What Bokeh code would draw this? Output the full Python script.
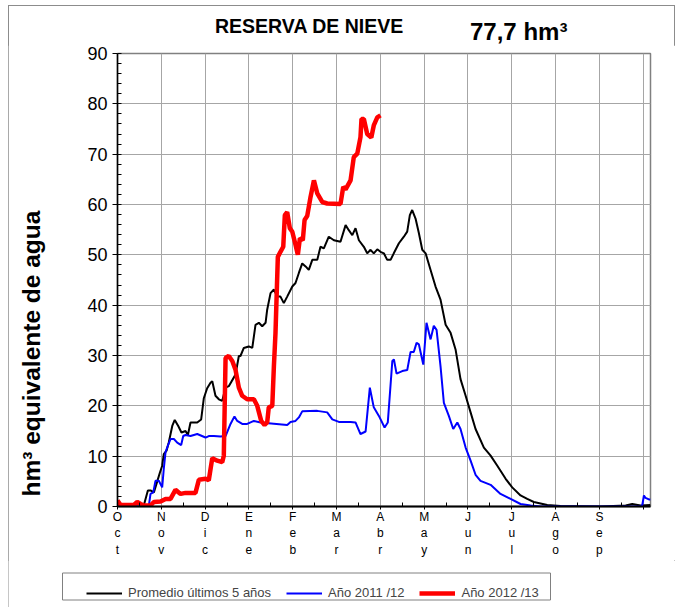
from bokeh.plotting import figure
from bokeh.layouts import column
from bokeh.models import (Range1d, FixedTicker, Legend, LegendItem, Title, Div, BoxAnnotation)
from bokeh.embed import file_html
from bokeh.resources import INLINE

# ---- data (x = days from 1 October, y = hm3) ----
prom_day = [0, 15.8, 18, 20.8, 22.6, 24.9, 26.7, 29, 30.6, 31.7, 33.6, 35.1, 37.5, 39.2, 41.6, 43.8,
            46.6, 48.2, 50, 54.6, 57.3, 59.1, 61.4, 63.7, 64.9, 67.1, 69.4, 71.7, 74, 76.2, 80.8,
            83.1, 84.2, 86.5, 89.9, 92.3, 94.5, 96.8, 99.1, 101.4, 102.5, 104.8, 107.1, 109.4,
            111.6, 113.9, 116.2, 119.7, 121.9, 124.2, 126.5, 128.8, 131, 133.4, 136.8, 139,
            141.3, 144.7, 148.2, 152.7, 156.2, 158.4, 160.8, 163, 165.3, 168.7, 171, 173.3,
            175.5, 177.9, 180.1, 182.4, 184.7, 187, 189.2, 192.7, 196.1, 198.4, 200.2, 201.8,
            204.1, 206.4, 208.7, 211, 214.4, 217.8, 221.2, 224.7, 228.1, 231.5, 234.9, 238.4,
            241.8, 245.2, 250.9, 255.5, 260.1, 265.8, 270.3, 276, 280.6, 285.1, 294.3, 303.4,
            330.8, 348, 352.5, 358.2, 365]
prom_val = [0, 0, 0.2, 3.2, 3.2, 2.8, 4.5, 6.7, 8.1, 10.4, 11.1, 12.7, 16, 17.2, 16, 14.7,
            15, 14.2, 16.7, 16.7, 17.3, 21.5, 23.5, 24.6, 24.9, 22, 21.3, 21, 23.6, 23.9, 26.2,
            29.9, 29.9, 31.5, 31.8, 31.5, 36.1, 36.5, 35.8, 36.5, 39.1, 42.4, 43.1, 41.7,
            41.7, 40.4, 41.7, 43.7, 44.4, 46.4, 48.3, 47.7, 47.0, 49.0, 49.0, 51.6,
            51.3, 53.6, 52.9, 52.6, 55.9, 54.9, 53.9, 55.3, 52.9, 51.6, 50.3, 51,
            50.3, 51.1, 50.6, 50.3, 49.0, 49, 50.3, 52.3, 53.6, 54.6, 57.9, 58.9,
            57.2, 54.3, 51, 50.3, 47, 43.7, 41.1, 36.1, 34.5, 31.2, 25.3, 22,
            18.7, 15.4, 11.7, 10.1, 8.1, 5.5, 3.8, 2.2, 1.5, 0.9, 0.3, 0.1,
            0, 0.2, 0.5, 0.2, 0.3]

a1112_day = [0, 21.4, 22.6, 24.5, 26, 28.3, 30.6, 31.7, 32.9, 34.5, 36.3, 38.6, 40.9, 43.6, 45,
             46.6, 50, 54.6, 60.3, 62.5, 66, 70.5, 74, 77.4, 80.1, 82, 85.4, 88.8, 93.4, 97.9,
             116.2, 118.5, 121.9, 124.2, 126.5, 136.8, 143.6, 147.1, 151.6, 159.6, 163, 166.4,
             169.9, 172.8, 175.5, 179, 182.9, 185.1, 188.2, 189.3, 191.1, 195, 198.4, 200.7,
             202.9, 204.8, 206.4, 209.4, 211.6, 214.4, 216.6, 218.5, 221.2, 223.5, 226.9,
             229.9, 232.7, 234.9, 238.4, 241.8, 245.2, 248.6, 255.5, 262.3, 269.2, 276,
             282.9, 289.7, 358.2, 359.4, 360.5, 361.6, 363.9, 365]
a1112_val = [0, 0, 2.5, 2.8, 5.1, 5.1, 3.8, 7.5, 10.8, 12.1, 13.4, 13.4, 12.7, 12.2, 14,
             14.2, 14, 14.4, 13.7, 14, 14, 13.9, 14, 16.4, 17.9, 17, 16.4, 16.4, 17, 16.7,
             16.2, 16.8, 17, 17.7, 18.9, 19, 18.7, 17.3, 16.8, 16.8, 16.7, 14.4,
             14.9, 23.6, 19.7, 18, 15.7, 16.7, 28.9, 29.2, 26.4, 26.9, 27.1, 30.7,
             30.7, 32.5, 32.2, 28.2, 36.5, 33.2, 35.9, 35.1, 27.9, 20.6, 18,
             15.4, 16.7, 15.4, 11.7, 9.1, 6.3, 5.1, 4.3, 2.5, 1.5, 0.5,
             0.2, 0, 0, 0.3, 2.2, 1.7, 1.4, 1.4]

a1213_day = [0, 2.1, 11.2, 13.5, 15.8, 18, 22.6, 24.9, 29.5, 32.9, 36.3, 39.7, 43.2, 46.6,
             53.4, 55.7, 60.3, 62.5, 64.9, 68.3, 71.7, 72.8, 74, 76.2, 78.6, 80.8, 83.1,
             85.4, 88.8, 93.4, 95.7, 98.4, 100.7, 102.5, 103.6, 106, 107.1, 108.2, 109.8,
             111.6, 113.5, 114.6, 116.2, 118, 119.7, 121.9, 123.5, 124.9, 126.9, 128.1,
             129.9, 132.2, 134.5, 136.8, 140.2, 143.6, 152.7, 154.6, 156.2, 159.6, 161.8,
             164.2, 166.4, 167.1, 168.7, 171, 173.8, 175.5, 177.9, 180.1]
a1213_val = [1.2, 0.3, 0.3, 0.9, 0.5, 0.2, 0.2, 0.9, 1, 1.5, 1.5, 3.3, 2.5, 2.7,
             2.7, 5.3, 5.5, 5.2, 9.6, 9.1, 8.8, 10.1, 29.5, 29.9, 28.9, 27.2, 23.6,
             22, 21.3, 21.3, 20, 17, 16.2, 16.7, 19.7, 20, 27.9, 34.5, 49.6,
             50.6, 51.6, 57.9, 58.5, 55.3, 54.6, 52, 50, 53.3, 52.9, 56.9,
             57.7, 61.5, 64.8, 62.2, 60.5, 60.2, 60.1, 63.5, 63, 64.8, 69.4,
             70.1, 73.4, 77, 77, 74, 73.3, 75.7, 77.3, 77.7]

month_ticks = [0, 30, 60, 90, 120, 150, 180, 210, 240, 270, 300, 330, 360]
month_labels = ["Oct", "Nov", "Dic", "Ene", "Feb", "Mar", "Abr", "May", "Jun", "Jul", "Ago", "Sep", ""]
y_ticks = [0, 10, 20, 30, 40, 50, 60, 70, 80, 90]

title_text = "RESERVA DE NIEVE"
current_text = "77,7 hm³"
ylabel_text = "hm³ equivalente de agua"
series_names = ["Promedio últimos 5 años", "Año 2011 /12", "Año 2012 /13"]
series_colors = ["black", "#0000ff", "#ff0000"]
series_widths = [2, 2, 4.5]
series_x = [prom_day, a1112_day, a1213_day]
series_y = [prom_val, a1112_val, a1213_val]

FONT = "Liberation Sans"

# ---- header with the two title texts ----
header = Div(
    text=("<div style='position:relative;width:667px;height:40px;"
          "font-family:\"Liberation Sans\",Arial,sans-serif;font-weight:bold;color:black;'>"
          f"<span style='position:absolute;left:207px;top:12px;font-size:19.5px;line-height:1;"
          f"white-space:nowrap;'>{title_text}</span>"
          f"<span style='position:absolute;left:462px;top:15px;font-size:24px;line-height:1;"
          f"white-space:nowrap;'>{current_text}</span></div>"),
    width=667, height=40, margin=0)

# ---- main chart ----
p = figure(width=667, height=515, output_backend="svg", toolbar_location=None,
           x_range=Range1d(0, 365), y_range=Range1d(0, 90),
           min_border_left=109, min_border_right=25, min_border_top=8, min_border_bottom=52)
p.margin = 0
p.background_fill_color = "white"
p.border_fill_color = "white"
p.outline_line_color = "#808080"
p.outline_line_width = 1.5

xa = p.xaxis[0]
xa.ticker = FixedTicker(ticks=month_ticks, minor_ticks=[t + 15 for t in month_ticks[:-1]])
xa.major_label_overrides = {t: "\n".join(list(l)) for t, l in zip(month_ticks, month_labels)}
xa.major_label_text_font = FONT
xa.major_label_text_font_size = "12px"
xa.major_label_text_color = "black"
xa.major_label_standoff = 0
xa.axis_line_color = "black"
xa.axis_line_width = 2
xa.major_tick_out = 3
xa.major_tick_in = 0
xa.minor_tick_in = 4
xa.minor_tick_out = 0
xa.major_tick_line_color = "black"
xa.minor_tick_line_color = "black"

ya = p.yaxis[0]
ya.ticker = FixedTicker(ticks=y_ticks, minor_ticks=list(range(0, 91, 2)))
ya.major_label_text_font = FONT
ya.major_label_text_font_size = "18px"
ya.major_label_text_color = "black"
ya.major_label_standoff = 5
ya.axis_line_color = "black"
ya.axis_line_width = 1.5
ya.major_tick_out = 5
ya.major_tick_in = 0
ya.minor_tick_in = 4
ya.minor_tick_out = 0
ya.major_tick_line_color = "black"
ya.minor_tick_line_color = "black"
ya.axis_label = " "
ya.axis_label_text_font_size = "2px"
ya.axis_label_standoff = 35

for g in (p.xgrid[0], p.ygrid[0]):
    g.grid_line_color = "#a6a6a6"
    g.grid_line_width = 1
p.xgrid[0].ticker = xa.ticker
p.ygrid[0].ticker = ya.ticker

for xs, ys, c, w in zip(series_x, series_y, series_colors, series_widths):
    p.line(xs, ys, line_color=c, line_width=w)

p.add_layout(Title(text=ylabel_text, align="left", offset=10, vertical_align="bottom",
                   standoff=0, text_font=FONT, text_font_style="bold",
                   text_font_size="24.5px", text_color="black"), "left")

# ---- legend strip (pixel-scaled ranges; series lie outside the visible range) ----
pl = figure(width=667, height=47, output_backend="svg", toolbar_location=None,
            x_axis_location=None, y_axis_location=None, min_border=0,
            x_range=Range1d(0, 667), y_range=Range1d(1000, 1047))
try:
    pl.frame_align = False
except Exception:
    pass
pl.margin = 0
pl.grid.visible = False
pl.outline_line_color = None
pl.background_fill_color = "white"
pl.border_fill_color = "white"

pl.add_layout(BoxAnnotation(left=54, right=542, bottom=1007.5, top=1034.5,
                            fill_color="white", fill_alpha=1,
                            line_color="#808080", line_width=1, line_alpha=1))
items = []
for name, xs, ys, c, w in zip(series_names, series_x, series_y, series_colors, series_widths):
    rr = pl.line(xs, ys, line_color=c, line_width=w)
    items.append(LegendItem(label=name, renderers=[rr]))
legend = Legend(items=items, orientation="horizontal", location=(78, 7),
                label_text_font=FONT, label_text_font_size="13px",
                glyph_width=36, glyph_height=14, label_standoff=6, spacing=15,
                padding=6, margin=0, border_line_color=None,
                background_fill_alpha=0)
pl.add_layout(legend, "center")

page = column(header, p, pl, spacing=0, margin=(5, 0, 0, 8),
              styles={"outline": "1px solid #8c8c8c", "outline-offset": "-1px"})

open("out.html", "w").write(file_html(page, INLINE))
